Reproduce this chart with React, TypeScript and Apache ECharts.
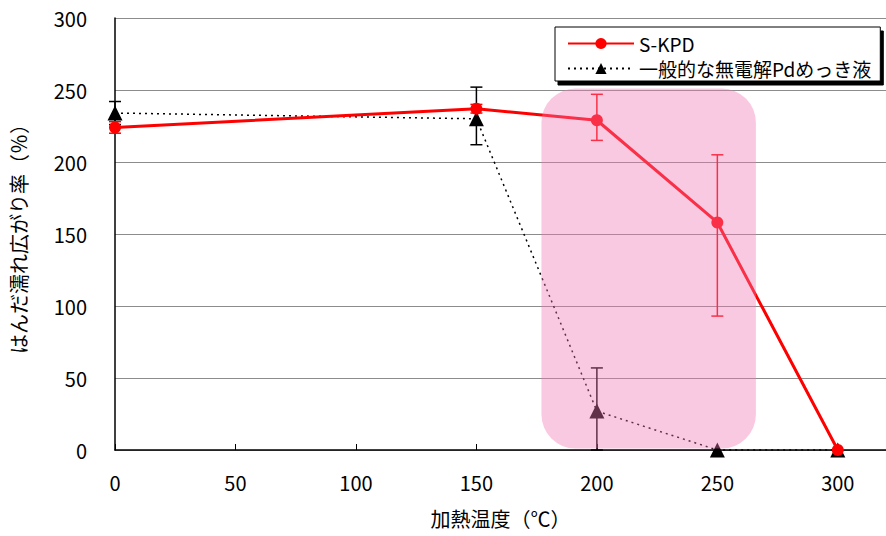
import React, { useEffect, useRef } from "react";
import * as echarts from "echarts";

const temps = [0, 150, 200, 250, 300];
const skpd = [224, 237, 229, 158, 0];
const generic = [234, 230, 27, 0, 0];
// [x, low, high]
const skpdErr = [
  [0, 220, 228],
  [150, 234, 240],
  [200, 215, 247],
  [250, 93, 205],
];
const genericErr = [
  [0, 226, 242],
  [150, 212, 252],
  [200, 0, 57],
];
const highlightX = [177, 266];
const highlightY = [1, 251];
const xTicks = [0, 50, 100, 150, 200, 250, 300];

const FONT = "'Noto Sans CJK JP', 'Noto Sans', sans-serif";

function errSeries(data: number[][], color: string) {
  return {
    type: "custom",
    data,
    z: 3,
    silent: true,
    renderItem: (params: any, api: any) => {
      const x = api.value(0);
      const lo = api.coord([x, api.value(1)]);
      const hi = api.coord([x, api.value(2)]);
      const cw = 6;
      const style = { stroke: color, lineWidth: 1.5 };
      return {
        type: "group",
        children: [
          { type: "line", shape: { x1: lo[0], y1: lo[1], x2: hi[0], y2: hi[1] }, style },
          { type: "line", shape: { x1: hi[0] - cw, y1: hi[1], x2: hi[0] + cw, y2: hi[1] }, style },
          { type: "line", shape: { x1: lo[0] - cw, y1: lo[1], x2: lo[0] + cw, y2: lo[1] }, style },
        ],
      };
    },
  };
}

export default function App() {
  const ref = useRef<HTMLDivElement>(null);
  useEffect(() => {
    const chart = echarts.init(ref.current!, null, { renderer: "svg" });
    chart.setOption({
      animation: false,
      backgroundColor: "#ffffff",
      textStyle: { fontFamily: FONT },
      grid: { left: 112, top: 18, right: 0, bottom: 86, containLabel: false },
      legend: {
        orient: "vertical",
        left: 555,
        top: 27,
        padding: [7, 9, 3, 12],
        itemGap: 6,
        itemWidth: 66,
        itemHeight: 14,
        backgroundColor: "#ffffff",
        borderColor: "#000000",
        borderWidth: 1,
        shadowColor: "#000000",
        shadowOffsetX: 3,
        shadowOffsetY: 4,
        shadowBlur: 0,
        textStyle: { fontSize: 19, color: "#000", fontFamily: FONT, padding: [0, 0, 0, 0] },
        data: ["S-KPD", "一般的な無電解Pdめっき液"],
      },
      xAxis: {
        type: "value",
        min: 0,
        max: 320,
        interval: 50,
        name: "加熱温度（℃）",
        nameLocation: "middle",
        nameGap: 58,
        nameTextStyle: { fontSize: 20, color: "#000", fontFamily: FONT },
        axisLine: { show: true, lineStyle: { color: "#000", width: 1.5 } },
        axisTick: { show: true, inside: true, length: 6, lineStyle: { color: "#000" } },
        axisLabel: {
          fontSize: 20,
          color: "#000",
          margin: 22,
          fontFamily: FONT,
          showMaxLabel: false,
          formatter: (v: number) => (xTicks.indexOf(v) >= 0 ? String(v) : ""),
        },
        splitLine: { show: false },
      },
      yAxis: {
        type: "value",
        min: 0,
        max: 300,
        interval: 50,
        name: "はんだ濡れ広がり率（％）",
        nameLocation: "middle",
        nameGap: 87,
        nameRotate: 90,
        nameTextStyle: { fontSize: 20, color: "#000", fontFamily: FONT },
        axisLine: { show: true, lineStyle: { color: "#000", width: 1.5 } },
        axisTick: { show: false },
        axisLabel: { fontSize: 20, color: "#000", margin: 28, fontFamily: FONT },
        splitLine: { show: true, lineStyle: { color: "#8c8c8c", width: 1 } },
      },
      series: [
        {
          name: "一般的な無電解Pdめっき液",
          type: "line",
          data: temps.map((t, i) => [t, generic[i]]),
          symbol: "triangle",
          symbolSize: 15,
          itemStyle: { color: "#000000" },
          lineStyle: { color: "#000000", width: 1.5, type: [2, 4] },
          z: 4,
        },
        {
          name: "S-KPD",
          type: "line",
          data: temps.map((t, i) => [t, skpd[i]]),
          symbol: "circle",
          symbolSize: 12,
          itemStyle: { color: "#ff0000" },
          lineStyle: { color: "#ff0000", width: 3 },
          z: 5,
        },
        errSeries(genericErr, "#000000"),
        errSeries(skpdErr, "#ff0000"),
      ],
    });
    const p1 = chart.convertToPixel({ gridIndex: 0 }, [highlightX[0], highlightY[1]]) as number[];
    const p2 = chart.convertToPixel({ gridIndex: 0 }, [highlightX[1], highlightY[0]]) as number[];
    chart.setOption({
      graphic: [
        {
          type: "rect",
          z: 50,
          silent: true,
          shape: { x: p1[0], y: p1[1], width: p2[0] - p1[0], height: p2[1] - p1[1], r: 34 },
          style: { fill: "rgba(240,120,180,0.4)" },
        },
      ],
    });
    return () => chart.dispose();
  }, []);
  return (
    <div
      ref={ref}
      style={{ position: "fixed", left: 0, top: 0, width: 886, height: 536 }}
    />
  );
}
